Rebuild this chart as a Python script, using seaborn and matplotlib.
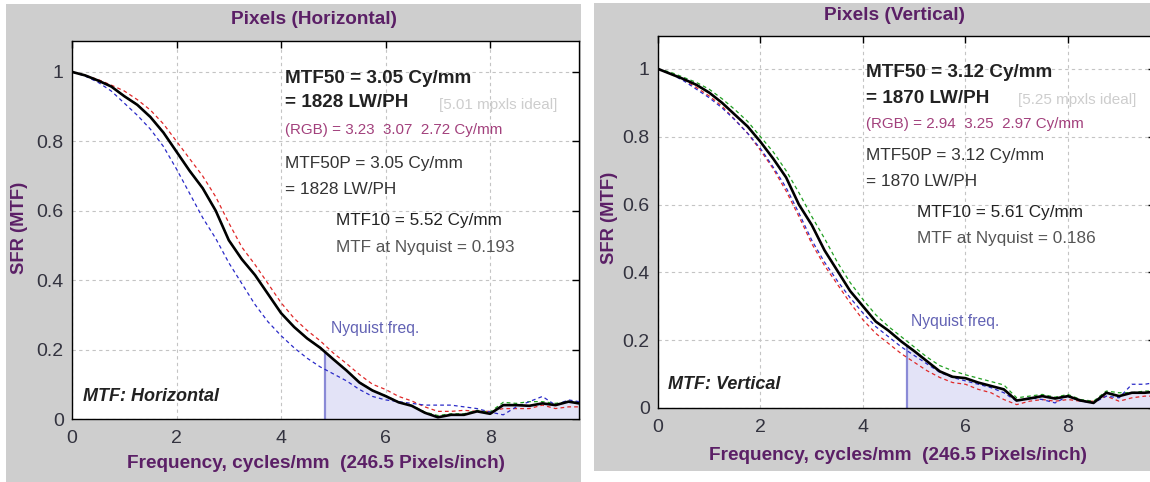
import numpy as np
import pandas as pd
import matplotlib
matplotlib.use("Agg")
import matplotlib.pyplot as plt
from matplotlib.patches import Rectangle
import seaborn as sns

# ---------------- data ----------------
freq = [0, 0.25, 0.5, 0.75, 1.0, 1.25, 1.5, 1.75, 2.0, 2.25, 2.5, 2.75, 3.0, 3.25,
        3.5, 3.75, 4.0, 4.25, 4.5, 4.75, 5.0, 5.25, 5.5, 5.75, 6.0, 6.25, 6.5, 6.75,
        7.0, 7.25, 7.5, 7.75, 8.0, 8.25, 8.5, 8.75, 9.0, 9.25, 9.5, 9.7]

# Horizontal panel
h_lum = [1.000, 0.990, 0.975, 0.958, 0.930, 0.905, 0.870, 0.825, 0.770, 0.715, 0.665, 0.600,
         0.515, 0.460, 0.415, 0.360, 0.305, 0.265, 0.232, 0.205, 0.172, 0.140, 0.105, 0.082,
         0.066, 0.048, 0.038, 0.018, 0.005, 0.012, 0.012, 0.022, 0.015, 0.040, 0.040, 0.038,
         0.045, 0.040, 0.050, 0.045]
h_red = [1.000, 0.990, 0.978, 0.962, 0.945, 0.920, 0.890, 0.850, 0.800, 0.750, 0.700, 0.640,
         0.565, 0.495, 0.445, 0.390, 0.335, 0.290, 0.255, 0.225, 0.190, 0.160, 0.128, 0.100,
         0.085, 0.065, 0.052, 0.035, 0.022, 0.022, 0.025, 0.022, 0.022, 0.030, 0.030, 0.030,
         0.040, 0.030, 0.035, 0.035]
h_green = [1.000, 0.990, 0.975, 0.958, 0.931, 0.906, 0.871, 0.826, 0.771, 0.716, 0.666, 0.601,
           0.516, 0.461, 0.416, 0.361, 0.306, 0.266, 0.233, 0.206, 0.173, 0.141, 0.106, 0.083,
           0.067, 0.049, 0.039, 0.020, 0.010, 0.015, 0.015, 0.025, 0.020, 0.048, 0.045, 0.050,
           0.050, 0.045, 0.050, 0.048]
h_blue = [1.000, 0.988, 0.970, 0.945, 0.910, 0.875, 0.835, 0.785, 0.720, 0.650, 0.580, 0.520,
          0.450, 0.390, 0.330, 0.280, 0.240, 0.205, 0.175, 0.150, 0.130, 0.110, 0.085, 0.065,
          0.055, 0.050, 0.045, 0.040, 0.040, 0.040, 0.035, 0.030, 0.020, 0.012, 0.035, 0.050,
          0.065, 0.040, 0.055, 0.050]

# Vertical panel
v_lum = [1.000, 0.985, 0.970, 0.953, 0.930, 0.900, 0.865, 0.830, 0.785, 0.735, 0.680, 0.600,
         0.540, 0.465, 0.405, 0.345, 0.300, 0.255, 0.228, 0.196, 0.168, 0.138, 0.108, 0.092,
         0.088, 0.075, 0.065, 0.055, 0.022, 0.028, 0.035, 0.028, 0.035, 0.022, 0.015, 0.045,
         0.035, 0.045, 0.045, 0.048]
v_red = [1.000, 0.985, 0.968, 0.945, 0.920, 0.890, 0.850, 0.810, 0.760, 0.705, 0.640, 0.565,
         0.485, 0.420, 0.365, 0.310, 0.260, 0.220, 0.190, 0.160, 0.135, 0.110, 0.090, 0.075,
         0.070, 0.055, 0.045, 0.025, 0.010, 0.020, 0.025, 0.020, 0.025, 0.020, 0.020, 0.035,
         0.020, 0.030, 0.035, 0.035]
v_green = [1.000, 0.990, 0.975, 0.960, 0.940, 0.912, 0.880, 0.845, 0.800, 0.755, 0.700, 0.635,
           0.565, 0.500, 0.430, 0.370, 0.320, 0.275, 0.240, 0.210, 0.180, 0.150, 0.125, 0.110,
           0.098, 0.088, 0.078, 0.068, 0.030, 0.035, 0.040, 0.032, 0.040, 0.025, 0.020, 0.050,
           0.045, 0.045, 0.050, 0.050]
v_blue = [1.000, 0.985, 0.965, 0.940, 0.915, 0.885, 0.850, 0.810, 0.765, 0.710, 0.650, 0.575,
          0.495, 0.430, 0.375, 0.325, 0.280, 0.240, 0.210, 0.180, 0.155, 0.130, 0.105, 0.090,
          0.080, 0.070, 0.060, 0.045, 0.020, 0.030, 0.025, 0.015, 0.035, 0.020, 0.015, 0.035,
          0.030, 0.070, 0.070, 0.075]

nyquist = 4.85
x_ticks = [0, 2, 4, 6, 8]
y_ticks = [0, 0.2, 0.4, 0.6, 0.8, 1.0]
y_tick_labels = ["0", "0.2", "0.4", "0.6", "0.8", "1"]

titles = ["Pixels (Horizontal)", "Pixels (Vertical)"]
x_label = "Frequency, cycles/mm  (246.5 Pixels/inch)"
y_label = "SFR (MTF)"
panel_names = ["MTF: Horizontal", "MTF: Vertical"]
mtf50_lines = [["MTF50 = 3.05 Cy/mm", "= 1828 LW/PH"], ["MTF50 = 3.12 Cy/mm", "= 1870 LW/PH"]]
ideal_text = ["[5.01 mpxls ideal]", "[5.25 mpxls ideal]"]
rgb_text = ["(RGB) = 3.23  3.07  2.72 Cy/mm", "(RGB) = 2.94  3.25  2.97 Cy/mm"]
mtf50p_lines = [["MTF50P = 3.05 Cy/mm", "= 1828 LW/PH"], ["MTF50P = 3.12 Cy/mm", "= 1870 LW/PH"]]
mtf10_text = ["MTF10 = 5.52 Cy/mm", "MTF10 = 5.61 Cy/mm"]
nyq_text = ["MTF at Nyquist = 0.193", "MTF at Nyquist = 0.186"]

# ---------------- style ----------------
sns.set_style("white")
plt.rcParams["font.family"] = ["Liberation Sans", "DejaVu Sans"]

W, H = 1150, 482
fig = plt.figure(figsize=(W / 100, H / 100), dpi=100)
fig.patch.set_facecolor("white")

PURPLE = "#5b1f66"
GRAY_BG = "#cecece"

def px_rect(x0, y0, x1, y1):
    return [x0 / W, 1 - y1 / H, (x1 - x0) / W, (y1 - y0) / H]

# panel backgrounds
for (x0, y0, x1, y1) in [(6, 4, 581, 490), (594, 3, 1160, 471)]:
    l, b, w, h = px_rect(x0, y0, x1, y1)
    fig.patches.append(Rectangle((l, b), w, h, transform=fig.transFigure,
                                 facecolor=GRAY_BG, edgecolor="none", zorder=-5))

panels = [
    dict(rect=px_rect(72, 41, 579, 419), ymax=1.089, title_xy=(314, 19), xl_xy=(316, 464),
         yl_xy=(20, 228), lum=h_lum, red=h_red, green=h_green, blue=h_blue,
         pos=dict(m50=(4.07, 0.981, 0.911), ideal=(7.02, 0.905), rgb=(4.07, 0.833),
                  m50p=(4.07, 0.737, 0.661), m10=(5.06, 0.571, 0.494), nyq=(4.95, 0.26),
                  name=(0.21, 0.066))),
    dict(rect=px_rect(658, 36, 1155, 408), ymax=1.097, title_xy=(894, 16), xl_xy=(898, 455),
         yl_xy=(610, 218), lum=v_lum, red=v_red, green=v_green, blue=v_blue,
         pos=dict(m50=(4.06, 0.988, 0.914), ideal=(7.02, 0.908), rgb=(4.06, 0.838),
                  m50p=(4.06, 0.745, 0.668), m10=(5.05, 0.577, 0.50), nyq=(4.94, 0.255),
                  name=(0.19, 0.068))),
]

for i, p in enumerate(panels):
    ax = fig.add_axes(p["rect"], zorder=2)
    ax.set_facecolor("white")
    f = np.array(freq)
    lum = np.array(p["lum"])

    # Nyquist shading under luminance curve
    nyq_val = np.interp(nyquist, f, lum)
    mask = f > nyquist
    fx = np.concatenate([[nyquist], f[mask]])
    fy = np.concatenate([[nyq_val], lum[mask]])
    ax.fill_between(fx, 0, fy, color="#e3e3f7", lw=0, zorder=1)
    ax.vlines(nyquist, 0, nyq_val, color="#8a8ad6", lw=1.6, zorder=2)

    for vals, col in [(p["red"], "#e02828"), (p["green"], "#22a022"), (p["blue"], "#2a2ac8")]:
        sns.lineplot(x=freq, y=vals, ax=ax, color=col, lw=0.9, linestyle=(0, (3, 2.5)), zorder=3)
    sns.lineplot(x=freq, y=p["lum"], ax=ax, color="black", lw=1.9, zorder=4)

    ax.set_xlim(0, 9.7)
    ax.set_ylim(0, p["ymax"])
    ax.set_xticks(x_ticks)
    ax.set_xticklabels([str(t) for t in x_ticks])
    ax.set_yticks(y_ticks)
    ax.set_yticklabels(y_tick_labels)
    ax.tick_params(direction="in", length=5, width=1, top=True, right=True,
                   labelsize=14, labelcolor="#33333f", color="black")
    ax.tick_params(axis="x", pad=8)
    ax.tick_params(axis="y", pad=6)
    ax.grid(True, color="#c4c4c4", lw=0.8, linestyle=(0, (3, 3)))
    ax.set_axisbelow(True)
    for s in ax.spines.values():
        s.set_color("black")
        s.set_linewidth(1.0)
    ax.set_xlabel("")
    ax.set_ylabel("")

    # labels in figure pixel positions
    tx, ty = p["title_xy"]
    fig.text(tx / W, 1 - ty / H, titles[i], ha="center", va="center", fontsize=13.7,
             fontweight="bold", color=PURPLE, zorder=3)
    xx, xy = p["xl_xy"]
    fig.text(xx / W, 1 - xy / H, x_label, ha="center", va="center", fontsize=13.7,
             fontweight="bold", color=PURPLE, zorder=3)
    yx, yy = p["yl_xy"]
    fig.text(yx / W, 1 - yy / H, y_label, ha="center", va="center", fontsize=13.2,
             fontweight="bold", color=PURPLE, rotation=90, zorder=3)

    q = p["pos"]
    ax.text(q["m50"][0], q["m50"][1], mtf50_lines[i][0], fontsize=13.6, fontweight="bold",
            color="#222222", va="center", ha="left", zorder=6)
    ax.text(q["m50"][0], q["m50"][2], mtf50_lines[i][1], fontsize=13.6, fontweight="bold",
            color="#222222", va="center", ha="left", zorder=6)
    ax.text(q["ideal"][0], q["ideal"][1], ideal_text[i], fontsize=11, color="#cdcdcd",
            va="center", ha="left", zorder=6)
    ax.text(q["rgb"][0], q["rgb"][1], rgb_text[i], fontsize=10.9, color="#a2407c",
            va="center", ha="left", zorder=6)
    ax.text(q["m50p"][0], q["m50p"][1], mtf50p_lines[i][0], fontsize=12.4, color="#333333",
            va="center", ha="left", zorder=6)
    ax.text(q["m50p"][0], q["m50p"][2], mtf50p_lines[i][1], fontsize=12.4, color="#333333",
            va="center", ha="left", zorder=6)
    ax.text(q["m10"][0], q["m10"][1], mtf10_text[i], fontsize=12.3, color="#222222",
            va="center", ha="left", zorder=6)
    ax.text(q["m10"][0], q["m10"][2], nyq_text[i], fontsize=12.3, color="#555555",
            va="center", ha="left", zorder=6)
    ax.text(q["nyq"][0], q["nyq"][1], "Nyquist freq.", fontsize=11.3, color="#6262b4",
            va="center", ha="left", zorder=6)
    ax.text(q["name"][0], q["name"][1], panel_names[i], fontsize=13, fontweight="bold",
            fontstyle="italic", color="#222222", va="center", ha="left", zorder=6)

fig.savefig("out.png", dpi=100, facecolor="white")
